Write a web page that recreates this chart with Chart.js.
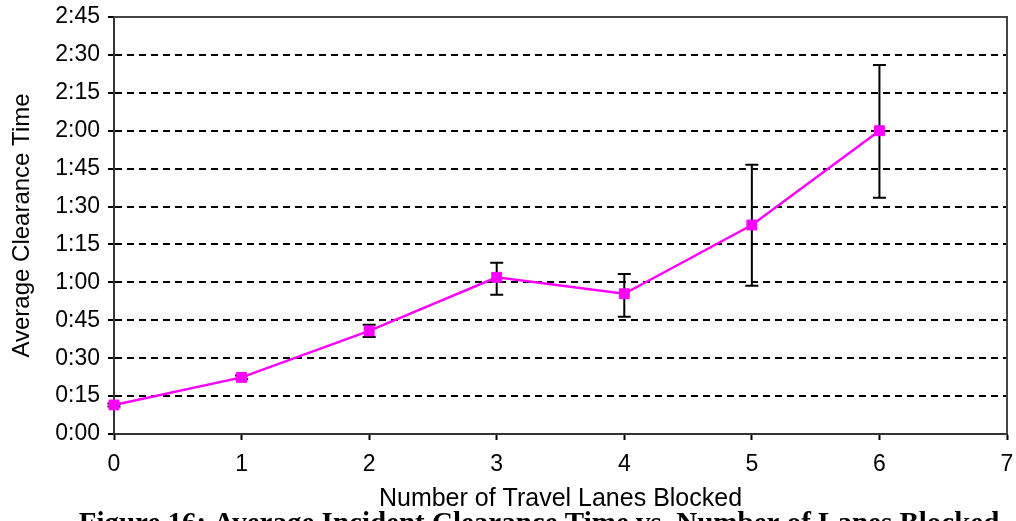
<!DOCTYPE html>
<html>
<head>
<meta charset="utf-8">
<title>Average Clearance Time</title>
<script src="https://cdn.jsdelivr.net/npm/chart.js@4.4.1/dist/chart.umd.min.js"></script>
<style>
  html, body { margin: 0; padding: 0; background: #ffffff; }
  canvas { display: block; }
</style>
</head>
<body>
<canvas id="chart" width="1016" height="521"></canvas>
<script>
// Number of travel lanes blocked (x) and clearance time in minutes (y)
const lanesBlocked = [0, 1, 2, 3, 4, 5, 6];
const meanMinutes  = [11.5, 22.4, 40.8, 62.0, 55.5, 82.7, 120.0];
const lowMinutes   = [10.9, 21.7, 38.4, 55.1, 46.4, 58.7, 93.5];
const highMinutes  = [12.1, 23.1, 43.2, 67.8, 63.3, 106.5, 146.0];
const yTickLabels  = ['0:00', '0:15', '0:30', '0:45', '1:00', '1:15', '1:30',
                      '1:45', '2:00', '2:15', '2:30', '2:45'];
const captionText  = 'Figure 16: Average Incident Clearance Time vs. Number of Lanes Blocked';

const points = lanesBlocked.map((x, i) => ({ x: x, y: meanMinutes[i] }));

// Vertical error bars with caps, drawn behind the series
const errorBars = {
  id: 'errorBars',
  beforeDatasetsDraw(chart) {
    const { ctx, scales: { x, y } } = chart;
    const cap = 6.5;
    ctx.save();
    ctx.strokeStyle = '#000000';
    ctx.lineWidth = 2;
    lanesBlocked.forEach((v, i) => {
      const px = x.getPixelForValue(v);
      const yl = y.getPixelForValue(lowMinutes[i]);
      const yh = y.getPixelForValue(highMinutes[i]);
      ctx.beginPath();
      ctx.moveTo(px, yl); ctx.lineTo(px, yh);
      ctx.moveTo(px - cap, yl); ctx.lineTo(px + cap, yl);
      ctx.moveTo(px - cap, yh); ctx.lineTo(px + cap, yh);
      ctx.stroke();
    });
    ctx.restore();
  }
};

// Frame around the plot area (top and right edges)
const plotFrame = {
  id: 'plotFrame',
  beforeDatasetsDraw(chart) {
    const { ctx, chartArea: a } = chart;
    ctx.save();
    ctx.strokeStyle = '#444444';
    ctx.lineWidth = 2;
    ctx.beginPath();
    ctx.moveTo(a.left, a.top);
    ctx.lineTo(a.right, a.top);
    ctx.lineTo(a.right, a.bottom);
    ctx.stroke();
    ctx.restore();
  }
};

// Figure caption below the axis title
const caption = {
  id: 'caption',
  afterDraw(chart) {
    const { ctx } = chart;
    ctx.save();
    ctx.fillStyle = '#000000';
    ctx.font = 'bold 29px "Liberation Serif", "Times New Roman", serif';
    ctx.textAlign = 'center';
    ctx.textBaseline = 'alphabetic';
    ctx.fillText(captionText, 539, 532);
    ctx.restore();
  }
};

// Fixed axis box sizes; label overhang is covered by the layout padding
function fixBox(size, dim) {
  return (scale) => {
    scale[dim] = size;
    scale.paddingLeft = 0;
    scale.paddingRight = 0;
    scale.paddingTop = 0;
    scale.paddingBottom = 0;
  };
}

Chart.defaults.font.family = '"Liberation Sans", Arial, sans-serif';
Chart.defaults.color = '#000000';

new Chart(document.getElementById('chart'), {
  type: 'line',
  data: {
    datasets: [{
      data: points,
      borderColor: '#FF00FF',
      backgroundColor: '#FF00FF',
      borderWidth: 2.5,
      tension: 0,
      pointStyle: 'rect',
      pointRadius: 7,
      pointBorderWidth: 1,
      pointBackgroundColor: '#FF00FF',
      pointBorderColor: '#FF00FF',
      clip: false
    }]
  },
  options: {
    responsive: false,
    animation: false,
    devicePixelRatio: 1,
    layout: { padding: { left: 0, top: 17, right: 9, bottom: 0 } },
    plugins: {
      legend: { display: false },
      tooltip: { enabled: false }
    },
    scales: {
      x: {
        type: 'linear',
        min: 0,
        max: 7,
        afterFit: fixBox(87, 'height'),
        ticks: { stepSize: 1, padding: 11, font: { size: 23 }, color: '#000000' },
        grid: { drawOnChartArea: false, drawTicks: true, tickLength: 6, tickColor: '#000000', tickWidth: 2 },
        border: { color: '#333333', width: 2 },
        title: {
          display: true,
          text: 'Number of Travel Lanes Blocked',
          font: { size: 25 },
          color: '#000000',
          padding: { top: 0, bottom: 7 }
        }
      },
      y: {
        type: 'linear',
        min: 0,
        max: 165,
        afterFit: fixBox(114, 'width'),
        ticks: {
          stepSize: 15,
          padding: 8,
          font: { size: 23 },
          color: '#000000',
          callback: (value, index) => yTickLabels[index]
        },
        grid: {
          color: (c) => (c.tick && (c.tick.value === 0 || c.tick.value === 165)) ? 'rgba(0,0,0,0)' : '#000000',
          lineWidth: 2,
          tickLength: 6,
          tickColor: '#000000',
          tickWidth: 2
        },
        border: { color: '#333333', width: 2, dash: [7, 5] },
        title: {
          display: true,
          text: 'Average Clearance Time',
          font: { size: 24 },
          color: '#000000',
          padding: { top: 8, bottom: 0 }
        }
      }
    }
  },
  plugins: [errorBars, plotFrame, caption]
});
</script>
</body>
</html>
